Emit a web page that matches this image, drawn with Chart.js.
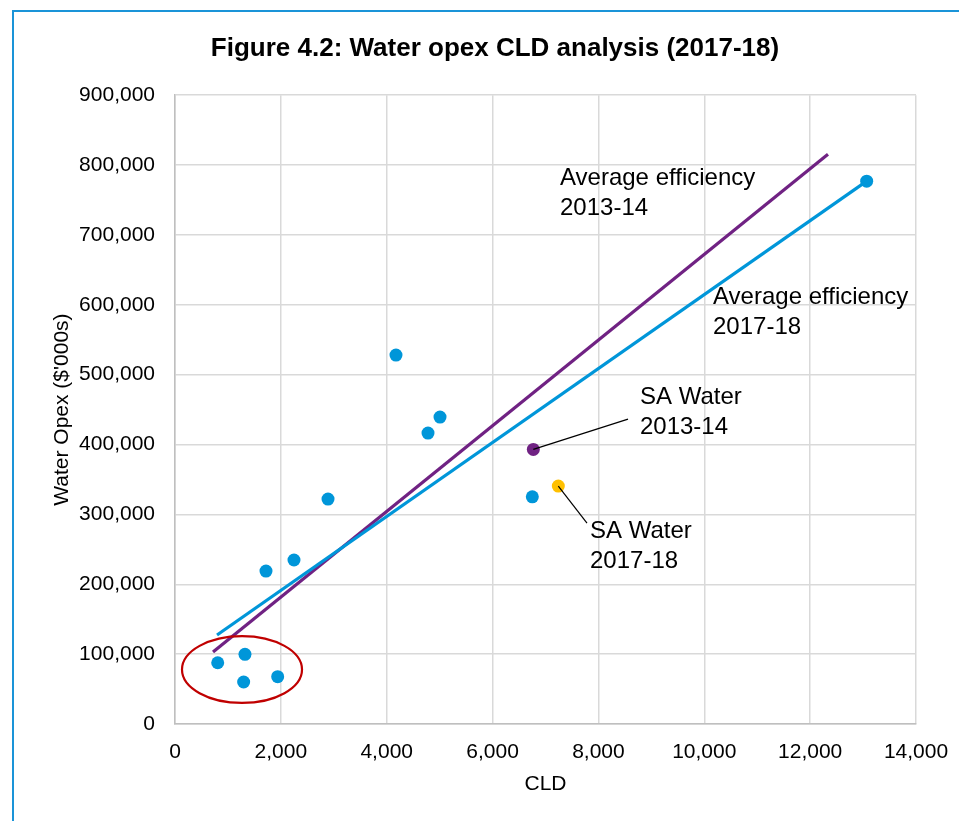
<!DOCTYPE html>
<html>
<head>
<meta charset="utf-8">
<script src="https://cdn.jsdelivr.net/npm/chart.js@4.4.1/dist/chart.umd.min.js"></script>
<style>
  html, body { margin: 0; padding: 0; background: #fff; overflow: hidden; }
  body { width: 959px; height: 821px; position: relative; }
  #frame {
    position: absolute; left: 12px; top: 10px; width: 980px; height: 830px;
    border-left: 2px solid #1a94d8; border-top: 2px solid #1a94d8;
  }
  #wrap { position: absolute; left: 14px; top: 12px; width: 963px; height: 809px; }
</style>
</head>
<body>
<div id="frame"></div>
<div id="wrap"><canvas id="graphicScatter"></canvas></div>
<script>
// other utilities
const cldOthers = [807, 1322, 1297, 1940, 1719, 2248, 2891, 4175, 4780, 5007, 6751, 13068];
const opexOthers = [87700, 99700, 60100, 67700, 218900, 234700, 321900, 528000, 416400, 439300, 325200, 777000];

// SA Water
const cldSA1314 = [6770];
const opexSA1314 = [393000];
const cldSA1718 = [7242];
const opexSA1718 = [340500];

// average efficiency lines (end points)
const cldAvg1314 = [718, 12337];
const opexAvg1314 = [103000, 815600];
const cldAvg1718 = [794, 13068];
const opexAvg1718 = [127300, 777000];

const toPoints = (xs, ys) => xs.map((x, i) => ({ x: x, y: ys[i] }));

const BLUE = "#0096d9";
const PURPLE = "#702283";
const YELLOW = "#ffc000";
const FONT = "'Liberation Sans', Arial, sans-serif";

// labels, leader lines and the red ring, all placed in data units
const notes = {
  labels: [
    { x: 7274, y: 781200, lines: ["Average efficiency", "2013-14"] },
    { x: 10165, y: 611000, lines: ["Average efficiency", "2017-18"] },
    { x: 8785, y: 467900, lines: ["SA Water", "2013-14"] },
    { x: 7841, y: 276100, lines: ["SA Water", "2017-18"] },
  ],
  leaders: [
    { from: [6770, 393000], to: [8559, 436400] },
    { from: [7242, 340500], to: [7784, 287600] },
  ],
  ring: { x: 1266, y: 78000, rx: 1134, ry: 47900 },
};

const notesPlugin = {
  id: "notes",
  afterDatasetsDraw(chart) {
    const ctx = chart.ctx;
    const xs = chart.scales.x;
    const ys = chart.scales.y;
    ctx.save();

    // leader lines
    ctx.strokeStyle = "#000";
    ctx.lineWidth = 1.2;
    notes.leaders.forEach((l) => {
      ctx.beginPath();
      ctx.moveTo(xs.getPixelForValue(l.from[0]), ys.getPixelForValue(l.from[1]));
      ctx.lineTo(xs.getPixelForValue(l.to[0]), ys.getPixelForValue(l.to[1]));
      ctx.stroke();
    });

    // red ring round the small utilities
    const r = notes.ring;
    const cx = xs.getPixelForValue(r.x);
    const cy = ys.getPixelForValue(r.y);
    const rx = Math.abs(xs.getPixelForValue(r.x + r.rx) - cx);
    const ry = Math.abs(ys.getPixelForValue(r.y + r.ry) - cy);
    ctx.beginPath();
    ctx.ellipse(cx, cy, rx, ry, 0, 0, Math.PI * 2);
    ctx.strokeStyle = "#c00000";
    ctx.lineWidth = 2.2;
    ctx.stroke();

    // text
    ctx.fillStyle = "#000";
    ctx.font = "24px " + FONT;
    ctx.textAlign = "left";
    ctx.textBaseline = "middle";
    notes.labels.forEach((n) => {
      const px = xs.getPixelForValue(n.x);
      const py = ys.getPixelForValue(n.y);
      n.lines.forEach((t, i) => ctx.fillText(t, px, py + i * 30));
    });
    ctx.restore();
  },
};

new Chart(document.getElementById("graphicScatter"), {
  type: "scatter",
  data: {
    datasets: [
      {
        data: toPoints(cldOthers, opexOthers),
        backgroundColor: BLUE,
        borderWidth: 0,
        pointRadius: 6.5,
        order: 0,
      },
      {
        data: toPoints(cldSA1314, opexSA1314),
        backgroundColor: PURPLE,
        borderWidth: 0,
        pointRadius: 6.5,
        order: 0,
      },
      {
        data: toPoints(cldSA1718, opexSA1718),
        backgroundColor: YELLOW,
        borderWidth: 0,
        pointRadius: 6.5,
        order: 0,
      },
      {
        data: toPoints(cldAvg1718, opexAvg1718),
        showLine: true,
        borderColor: BLUE,
        borderWidth: 3.2,
        pointRadius: 0,
        order: 1,
      },
      {
        data: toPoints(cldAvg1314, opexAvg1314),
        showLine: true,
        borderColor: PURPLE,
        borderWidth: 3.2,
        pointRadius: 0,
        order: 1,
      },
    ],
  },
  options: {
    responsive: true,
    maintainAspectRatio: false,
    animation: false,
    layout: { padding: { left: 60, right: 61, top: 0, bottom: 20 } },
    plugins: {
      legend: { display: false },
      tooltip: { enabled: false },
      title: {
        display: true,
        text: "Figure 4.2: Water opex CLD analysis (2017-18)",
        color: "#000",
        font: { family: FONT, size: 26, weight: "bold" },
        padding: { top: 21, bottom: 31 },
      },
    },
    scales: {
      x: {
        type: "linear",
        min: 0,
        max: 14000,
        ticks: { stepSize: 2000, color: "#000", padding: 16, font: { family: FONT, size: 21 } },
        grid: { color: "#d9d9d9", lineWidth: 1.5, drawTicks: false },
        border: { color: "#bfbfbf", width: 1.5 },
        title: { display: true, text: "CLD", color: "#000", font: { family: FONT, size: 21 } },
        afterFit(scale) { scale.height = 77; },
      },
      y: {
        min: 0,
        max: 900000,
        ticks: { stepSize: 100000, color: "#000", padding: 20, font: { family: FONT, size: 21 } },
        grid: { color: "#d9d9d9", lineWidth: 1.5, drawTicks: false },
        border: { color: "#bfbfbf", width: 1.5 },
        title: {
          display: true,
          text: "Water Opex ($'000s)",
          color: "#000",
          font: { family: FONT, size: 21 },
          padding: { top: -24, bottom: 0 },
        },
        afterFit(scale) { scale.width = 101; },
      },
    },
  },
  plugins: [notesPlugin],
});
</script>
</body>
</html>
